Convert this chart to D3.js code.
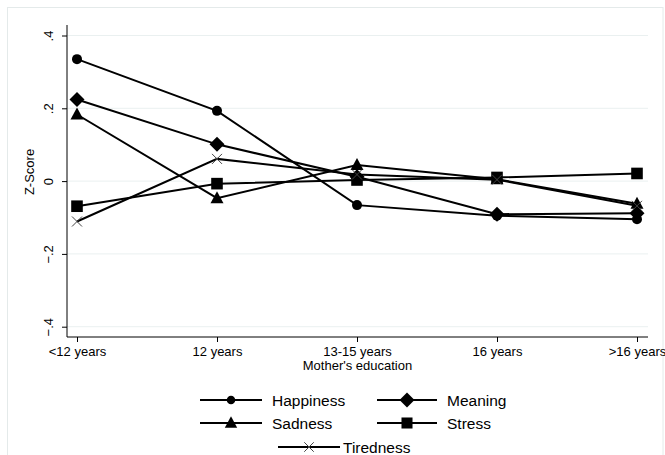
<!DOCTYPE html>
<html><head><meta charset="utf-8">
<script src="https://cdn.jsdelivr.net/npm/d3@7"></script>
<style>
body{margin:0;background:#fff;}
text{font-family:"Liberation Sans",Arial,sans-serif;fill:#000;}
</style></head>
<body><svg id="c" width="665" height="455"></svg>
<script>
const categories = ["<12 years","12 years","13-15 years","16 years",">16 years"];
const happiness = [0.335, 0.193, -0.066, -0.095, -0.105];
const meaning   = [0.224, 0.101, 0.012, -0.091, -0.088];
const sadness   = [0.183, -0.047, 0.044, 0.005, -0.062];
const stress    = [-0.069, -0.007, 0.003, 0.010, 0.021];
const tiredness = [-0.111, 0.061, 0.018, 0.004, -0.068];
const yTicks = [-0.4, -0.2, 0, 0.2, 0.4];
const seriesNames = ["Happiness","Meaning","Sadness","Stress","Tiredness"];
const seriesSymbols = ["circle","diamond","triangle","square","cross"];

const series = [happiness, meaning, sadness, stress, tiredness].map((v,i)=>({name:seriesNames[i], sym:seriesSymbols[i], values:v}));

const svg = d3.select("#c");
// outer graph frame
svg.append("rect").attr("x",7.5).attr("y",7.5).attr("width",655.5).attr("height",460)
  .attr("fill","none").attr("stroke","#e4eaea").attr("stroke-width",1);

const plotL = 67, plotR = 648, plotT = 25, plotB = 337;
const x = d3.scalePoint().domain(categories).range([77, 637]);
const y = d3.scaleLinear().domain([-0.4, 0.4]).range([326.7, 35.5]);

// gridlines
svg.append("g").selectAll("line").data(yTicks).join("line")
  .attr("x1",plotL).attr("x2",plotR).attr("y1",d=>y(d)).attr("y2",d=>y(d))
  .attr("stroke","#eaf0f0").attr("stroke-width",1);

const fmt = v => v===0 ? "0" : d3.format(".1f")(v).replace("0.",".");

// y axis
const gy = svg.append("g").attr("transform",`translate(${plotL},0)`)
  .call(d3.axisLeft(y).tickValues(yTicks).tickFormat(fmt).tickSize(5).tickSizeOuter(0).tickPadding(0));
gy.select(".domain").remove();
gy.selectAll(".tick line").attr("stroke","#000");
gy.selectAll(".tick text").attr("font-size","13px").attr("text-anchor","middle")
  .attr("x",null).attr("dy",null)
  .attr("transform","translate(-19,0) rotate(-90)").attr("dy","0.35em")
  .style("font-family","'Liberation Sans',Arial,sans-serif");
svg.append("line").attr("x1",plotL).attr("x2",plotL).attr("y1",plotT).attr("y2",plotB).attr("stroke","#000");

// x axis
const gx = svg.append("g").attr("transform",`translate(0,${plotB})`)
  .call(d3.axisBottom(x).tickSize(5).tickSizeOuter(0).tickPadding(5));
gx.select(".domain").remove();
gx.selectAll(".tick line").attr("stroke","#000");
gx.selectAll(".tick text").attr("font-size","13px").style("font-family","'Liberation Sans',Arial,sans-serif");
svg.append("line").attr("x1",plotL).attr("x2",plotR).attr("y1",plotB).attr("y2",plotB).attr("stroke","#000");

// axis titles
svg.append("text").attr("x",(plotL+plotR)/2).attr("y",370).attr("text-anchor","middle")
  .attr("font-size","13px").text("Mother's education");
svg.append("text").attr("transform","translate(34,172) rotate(-90)").attr("text-anchor","middle")
  .attr("font-size","13px").text("Z-Score");

// marker drawing
function marker(g, sym, scale){
  scale = scale || 1;
  if(sym==="circle") g.append("circle").attr("r",5*scale).attr("fill","#000");
  else if(sym==="diamond") g.append("path").attr("d",`M0,${-7.5*scale}L${7.5*scale},0L0,${7.5*scale}L${-7.5*scale},0Z`).attr("fill","#000");
  else if(sym==="triangle") g.append("path").attr("d",`M0,${-7*scale}L${6.5*scale},${5*scale}L${-6.5*scale},${5*scale}Z`).attr("fill","#000");
  else if(sym==="square") g.append("rect").attr("x",-5.8*scale).attr("y",-5.8*scale).attr("width",11.6*scale).attr("height",11.6*scale).attr("fill","#000");
  else if(sym==="cross") g.append("path").attr("d",`M${-5*scale},${-5*scale}L${5*scale},${5*scale}M${-5*scale},${5*scale}L${5*scale},${-5*scale}`).attr("stroke","#444").attr("stroke-width",1).attr("fill","none");
}

const line = d3.line().x((d,i)=>x(categories[i])).y(d=>y(d));
series.forEach(s=>{
  svg.append("path").datum(s.values).attr("d",line).attr("fill","none").attr("stroke","#000").attr("stroke-width",2);
  s.values.forEach((v,i)=>{
    const g = svg.append("g").attr("transform",`translate(${x(categories[i])},${y(v)})`);
    marker(g, s.sym, 1);
  });
});

// legend
const legendPos = [
  {x1:200,x2:262,ty:400,tx:272},
  {x1:377,x2:437,ty:400,tx:447},
  {x1:200,x2:262,ty:423,tx:272},
  {x1:377,x2:437,ty:423,tx:447},
  {x1:278,x2:340,ty:447,tx:343}
];
series.forEach((s,i)=>{
  const p = legendPos[i];
  svg.append("line").attr("x1",p.x1).attr("x2",p.x2).attr("y1",p.ty).attr("y2",p.ty).attr("stroke","#000").attr("stroke-width",2);
  const g = svg.append("g").attr("transform",`translate(${(p.x1+p.x2)/2},${p.ty})`);
  marker(g, s.sym, s.sym==="circle"?0.85:(s.sym==="diamond"?1.0:0.95));
  svg.append("text").attr("x",p.tx).attr("y",p.ty).attr("dy","0.36em").attr("font-size","15.5px").text(s.name);
});
</script></body></html>
